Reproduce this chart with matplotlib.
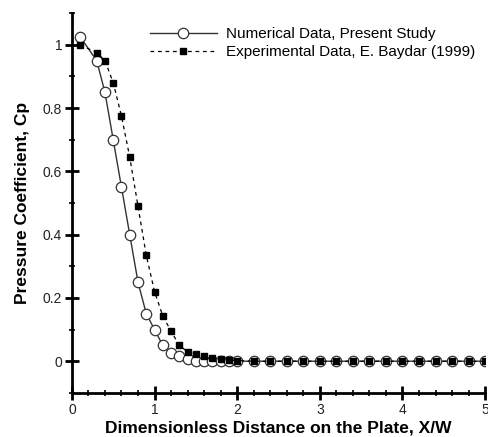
import matplotlib
matplotlib.use("Agg")
import matplotlib.pyplot as plt
from matplotlib.ticker import MultipleLocator, FormatStrFormatter

plt.rcParams['font.family'] = ['Liberation Sans', 'DejaVu Sans']

# x positions (X/W) shared by both series
x = [0.1, 0.3, 0.4, 0.5, 0.6, 0.7, 0.8, 0.9, 1.0, 1.1, 1.2, 1.3, 1.4, 1.5,
     1.6, 1.7, 1.8, 1.9, 2.0, 2.2, 2.4, 2.6, 2.8, 3.0, 3.2, 3.4, 3.6, 3.8,
     4.0, 4.2, 4.4, 4.6, 4.8, 5.0]

cp_num = [1.025, 0.95, 0.85, 0.70, 0.55, 0.40, 0.25, 0.15, 0.10, 0.05,
          0.025, 0.015, 0.006, 0.002, 0.0, 0.0, 0.0, 0.0, 0.0, 0.0, 0.0,
          0.0, 0.0, 0.0, 0.0, 0.0, 0.0, 0.0, 0.0, 0.0, 0.0, 0.0, 0.0, 0.0]

cp_exp = [1.0, 0.975, 0.95, 0.88, 0.775, 0.645, 0.49, 0.335, 0.22, 0.143,
          0.095, 0.05, 0.03, 0.022, 0.017, 0.01, 0.006, 0.004, 0.002, 0.0,
          0.0, 0.0, 0.0, 0.0, 0.0, 0.0, 0.0, 0.0, 0.0, 0.0, 0.0, 0.0, 0.0, 0.0]

fig = plt.figure(figsize=(4.89, 4.37), dpi=100)
ax = fig.add_axes([0.147, 0.101, 0.845, 0.869])

ax.plot(x, cp_num, '-', color='#333333', lw=1.0, marker='o', ms=7.5,
        mfc='white', mec='#333333', mew=0.9,
        label='Numerical Data, Present Study', zorder=3)
ax.plot(x, cp_exp, '--', color='black', lw=0.9, dashes=(3, 3), marker='s',
        ms=4.3, mfc='black', mec='black',
        label='Experimental Data, E. Baydar (1999)', zorder=4)

ax.set_xlim(0, 5)
ax.set_ylim(-0.1, 1.1)
ax.xaxis.set_major_locator(MultipleLocator(1))
ax.xaxis.set_minor_locator(MultipleLocator(0.2))
ax.xaxis.set_major_formatter(FormatStrFormatter('%g'))
ax.set_yticks([0, 0.2, 0.4, 0.6, 0.8, 1.0])
ax.yaxis.set_minor_locator(MultipleLocator(0.1))
ax.yaxis.set_major_formatter(FormatStrFormatter('%g'))

for s in ['top', 'right']:
    ax.spines[s].set_visible(False)
for s in ['left', 'bottom']:
    ax.spines[s].set_linewidth(2)

ax.tick_params(which='major', direction='inout', length=10, width=2,
               labelsize=10, labelcolor='#222222', pad=2)
ax.tick_params(which='minor', direction='inout', length=5, width=1.2)

ax.set_xlabel('Dimensionless Distance on the Plate, X/W', fontsize=12.5,
              fontweight='bold', labelpad=3)
ax.set_ylabel('Pressure Coefficient, Cp', fontsize=12.5, fontweight='bold',
              labelpad=9)

ax.legend(loc='upper right', bbox_to_anchor=(1.01, 1.0), frameon=False,
          fontsize=11, handlelength=4.4, handletextpad=0.6,
          labelspacing=0.3, numpoints=1)

fig.savefig('out.png', dpi=100)
